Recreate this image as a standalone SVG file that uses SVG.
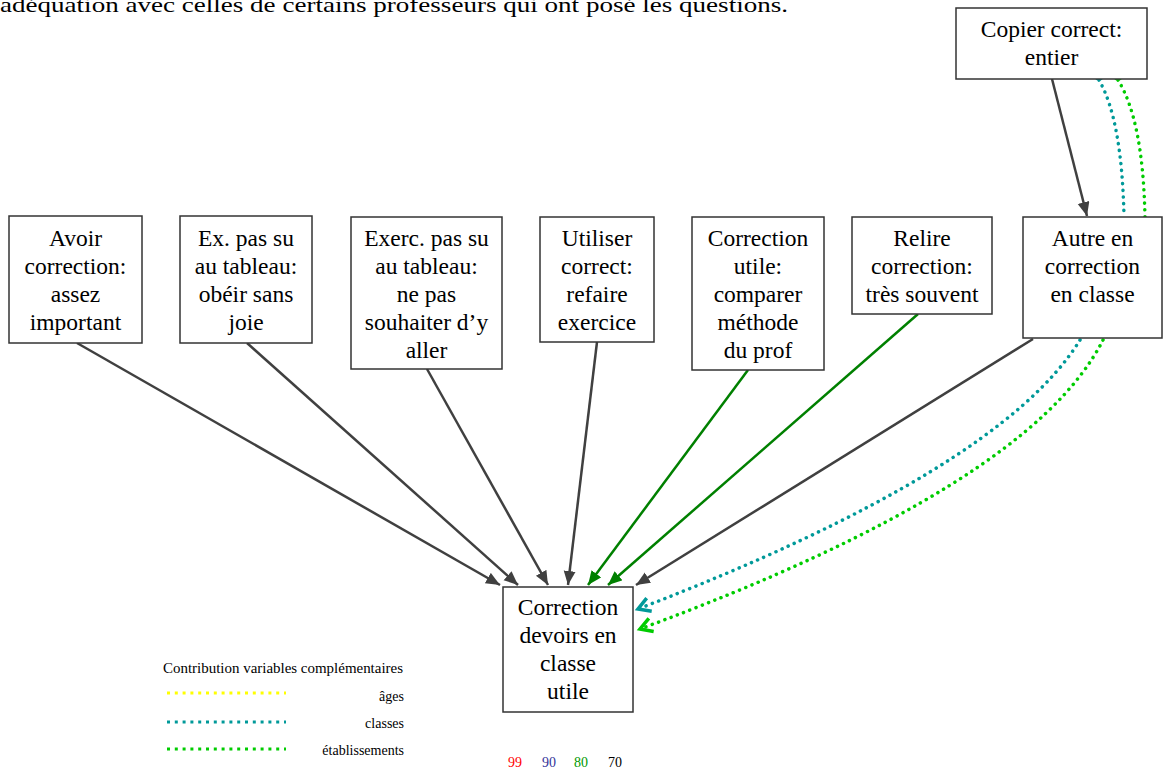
<svg xmlns="http://www.w3.org/2000/svg" width="1163" height="767" viewBox="0 0 1163 767">
<style>
.box{fill:#fff;stroke:#333;stroke-width:1.5}
.t{font-size:23.5px;fill:#000;text-anchor:middle}
.sm{font-size:14px;fill:#000}
.dk{stroke:#404040;stroke-width:2.5;fill:none}
.gr{stroke:#008000;stroke-width:2.5;fill:none}
.dt{stroke:#009999;stroke-width:3.5;fill:none;stroke-linecap:round;stroke-dasharray:0.1 6.6}
.dg{stroke:#00CC00;stroke-width:3.5;fill:none;stroke-linecap:round;stroke-dasharray:0.1 6.6}
</style>
<defs>
<marker id="ad" markerUnits="userSpaceOnUse" markerWidth="16" markerHeight="14" refX="14" refY="6" orient="auto"><path d="M0,0 L14,6 L0,12 Z" fill="#404040"/></marker>
<marker id="ag" markerUnits="userSpaceOnUse" markerWidth="16" markerHeight="14" refX="14" refY="6" orient="auto"><path d="M0,0 L14,6 L0,12 Z" fill="#008000"/></marker>
<marker id="at" markerUnits="userSpaceOnUse" markerWidth="20" markerHeight="20" refX="16" refY="10" orient="auto"><path d="M4,3 L16,10 L4,17" fill="none" stroke="#009999" stroke-width="3.5"/></marker>
<marker id="ab" markerUnits="userSpaceOnUse" markerWidth="20" markerHeight="20" refX="16" refY="10" orient="auto"><path d="M4,3 L16,10 L4,17" fill="none" stroke="#00CC00" stroke-width="3.5"/></marker>
</defs>
<rect width="1163" height="767" fill="#fff"/>
<g font-family="'Liberation Serif', 'Times New Roman', serif">
<text x="0" y="12" font-size="22" textLength="788" lengthAdjust="spacingAndGlyphs">adéquation avec celles de certains professeurs qui ont posé les questions.</text>

<g id="connectors">
<line class="dk" x1="77" y1="343" x2="500" y2="585" marker-end="url(#ad)"/>
<line class="dk" x1="247" y1="343" x2="518" y2="585" marker-end="url(#ad)"/>
<line class="dk" x1="427" y1="369" x2="548" y2="585" marker-end="url(#ad)"/>
<line class="dk" x1="597" y1="342" x2="568" y2="585" marker-end="url(#ad)"/>
<line class="gr" x1="748" y1="370" x2="588" y2="585" marker-end="url(#ag)"/>
<line class="gr" x1="918" y1="314" x2="608" y2="585" marker-end="url(#ag)"/>
<line class="dk" x1="1033" y1="339" x2="636" y2="585" marker-end="url(#ad)"/>
<line class="dk" x1="1052" y1="79" x2="1087" y2="216" marker-end="url(#ad)"/>
<path class="dt" d="M1080,340 Q1000,470 638,609" marker-end="url(#at)"/>
<path class="dg" d="M1103,340 Q1030,485 640,629" marker-end="url(#ab)"/>
<path class="dt" d="M1099,80 Q1122,120 1124,217"/>
<path class="dg" d="M1118,80 Q1143,120 1145,217"/>
<circle cx="1099" cy="75" r="5.5" fill="#009999"/>
<circle cx="1118" cy="75" r="5.5" fill="#00CC00"/>
</g>

<g id="n1"><rect class="box" x="9" y="216" width="133" height="127"/>
<text class="t"><tspan x="75.5" y="246">Avoir</tspan><tspan x="75.5" y="274">correction:</tspan><tspan x="75.5" y="302">assez</tspan><tspan x="75.5" y="330">important</tspan></text></g>
<g id="n2"><rect class="box" x="180" y="216" width="132" height="127"/>
<text class="t"><tspan x="246" y="246">Ex. pas su</tspan><tspan x="246" y="274">au tableau:</tspan><tspan x="246" y="302">obéir sans</tspan><tspan x="246" y="330">joie</tspan></text></g>
<g id="n3"><rect class="box" x="351" y="217" width="151" height="152"/>
<text class="t"><tspan x="426.5" y="246">Exerc. pas su</tspan><tspan x="426.5" y="274">au tableau:</tspan><tspan x="426.5" y="302">ne pas</tspan><tspan x="426.5" y="330">souhaiter d’y</tspan><tspan x="426.5" y="358">aller</tspan></text></g>
<g id="n4"><rect class="box" x="540" y="217" width="114" height="125"/>
<text class="t"><tspan x="597" y="246">Utiliser</tspan><tspan x="597" y="274">correct:</tspan><tspan x="597" y="302">refaire</tspan><tspan x="597" y="330">exercice</tspan></text></g>
<g id="n5"><rect class="box" x="692" y="217" width="132" height="153"/>
<text class="t"><tspan x="758" y="246">Correction</tspan><tspan x="758" y="274">utile:</tspan><tspan x="758" y="302">comparer</tspan><tspan x="758" y="330">méthode</tspan><tspan x="758" y="358">du prof</tspan></text></g>
<g id="n6"><rect class="box" x="852" y="217" width="140" height="97"/>
<text class="t"><tspan x="922" y="246">Relire</tspan><tspan x="922" y="274">correction:</tspan><tspan x="922" y="302">très souvent</tspan></text></g>
<g id="n7"><rect class="box" x="1023" y="217" width="139" height="121"/>
<text class="t"><tspan x="1092.5" y="246">Autre en</tspan><tspan x="1092.5" y="274">correction</tspan><tspan x="1092.5" y="302">en classe</tspan></text></g>
<g id="n8"><rect class="box" x="956" y="8" width="191" height="71"/>
<text class="t"><tspan x="1051.5" y="37">Copier correct:</tspan><tspan x="1051.5" y="65">entier</tspan></text></g>
<g id="n9"><rect class="box" x="503" y="587" width="130" height="125"/>
<text class="t"><tspan x="568" y="615">Correction</tspan><tspan x="568" y="643">devoirs en</tspan><tspan x="568" y="671">classe</tspan><tspan x="568" y="699">utile</tspan></text></g>

<g id="legend">
<text class="sm" x="163" y="673" textLength="240" lengthAdjust="spacingAndGlyphs">Contribution variables complémentaires</text>
<line x1="167" y1="693" x2="286" y2="693" stroke="#FFFF00" stroke-width="3" stroke-dasharray="3 4.8"/>
<line x1="167" y1="722" x2="286" y2="722" stroke="#009999" stroke-width="3" stroke-dasharray="3 4.8"/>
<line x1="167" y1="749" x2="286" y2="749" stroke="#00CC00" stroke-width="3" stroke-dasharray="3 4.8"/>
<text class="sm" x="404" y="701" text-anchor="end">âges</text>
<text class="sm" x="404" y="728" text-anchor="end">classes</text>
<text class="sm" x="404" y="755" text-anchor="end">établissements</text>
</g>
<g id="scale" font-size="14">
<text x="508" y="767" fill="#FF0000">99</text>
<text x="542" y="767" fill="#333399">90</text>
<text x="574" y="767" fill="#009900">80</text>
<text x="608" y="767" fill="#000">70</text>
</g>
</g>
</svg>
